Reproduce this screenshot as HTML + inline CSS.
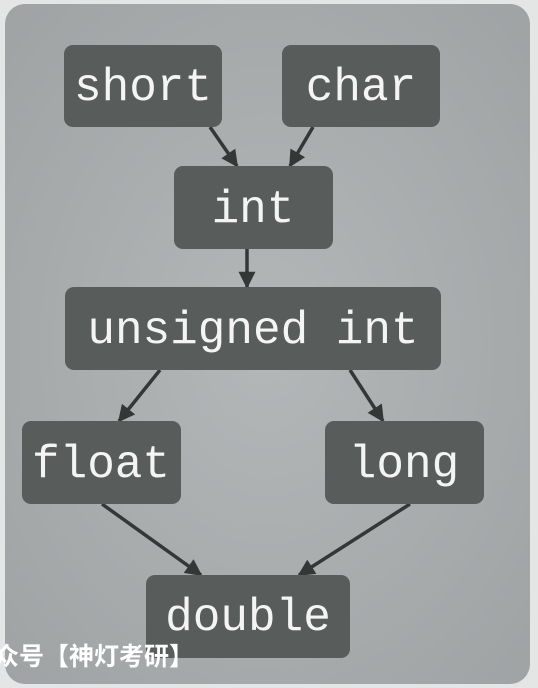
<!DOCTYPE html>
<html><head><meta charset="utf-8"><style>
html,body{margin:0;padding:0;background:#e4e6e6;width:538px;height:688px;overflow:hidden}
svg{display:block}
</style></head><body>
<svg width="538" height="688" viewBox="0 0 538 688" xmlns="http://www.w3.org/2000/svg">
<defs>
<radialGradient id="bg" cx="50%" cy="50%" r="70%">
<stop offset="0" stop-color="#b3b7b8"/><stop offset="1" stop-color="#9fa3a4"/>
</radialGradient>
<marker id="a" viewBox="0 0 10 10" refX="9" refY="5" markerWidth="17" markerHeight="17" markerUnits="userSpaceOnUse" orient="auto">
<path d="M0,0 L10,5 L0,10 z" fill="#333836"/>
</marker>
</defs>
<rect x="5" y="4" width="525" height="680" rx="20" fill="url(#bg)"/>
<g stroke="#333836" stroke-width="3.5" marker-end="url(#a)" fill="none">
<line x1="210" y1="127" x2="237" y2="166"/>
<line x1="313" y1="127" x2="290" y2="166"/>
<line x1="247" y1="249" x2="247" y2="287"/>
<line x1="160" y1="370" x2="119" y2="421"/>
<line x1="350" y1="370" x2="383" y2="421"/>
<line x1="102" y1="504" x2="201" y2="575"/>
<line x1="410" y1="504" x2="299" y2="575"/>
</g>
<g fill="#585d5c">
<rect x="64" y="45" width="158" height="82" rx="9"/>
<rect x="282" y="45" width="158" height="82" rx="9"/>
<rect x="174" y="166" width="159" height="83" rx="9"/>
<rect x="65" y="287" width="376" height="83" rx="9"/>
<rect x="22" y="421" width="159" height="83" rx="9"/>
<rect x="325" y="421" width="159" height="83" rx="9"/>
<rect x="146" y="575" width="204" height="83" rx="9"/>
</g>
<g fill="#f4f4f4" font-family="'Liberation Mono', monospace" font-size="46" text-anchor="middle">
<text x="143" y="100">short</text>
<text x="361" y="100">char</text>
<text x="253" y="222">int</text>
<text x="253" y="343">unsigned int</text>
<text x="101" y="477">float</text>
<text x="404" y="477">long</text>
<text x="248" y="630">double</text>
</g>
<text x="-6" y="665" fill="#ffffff" font-family="'Liberation Sans', 'Noto Sans CJK SC', sans-serif" font-weight="bold" font-size="25">众号【神灯考研】</text>
</svg>
</body></html>
